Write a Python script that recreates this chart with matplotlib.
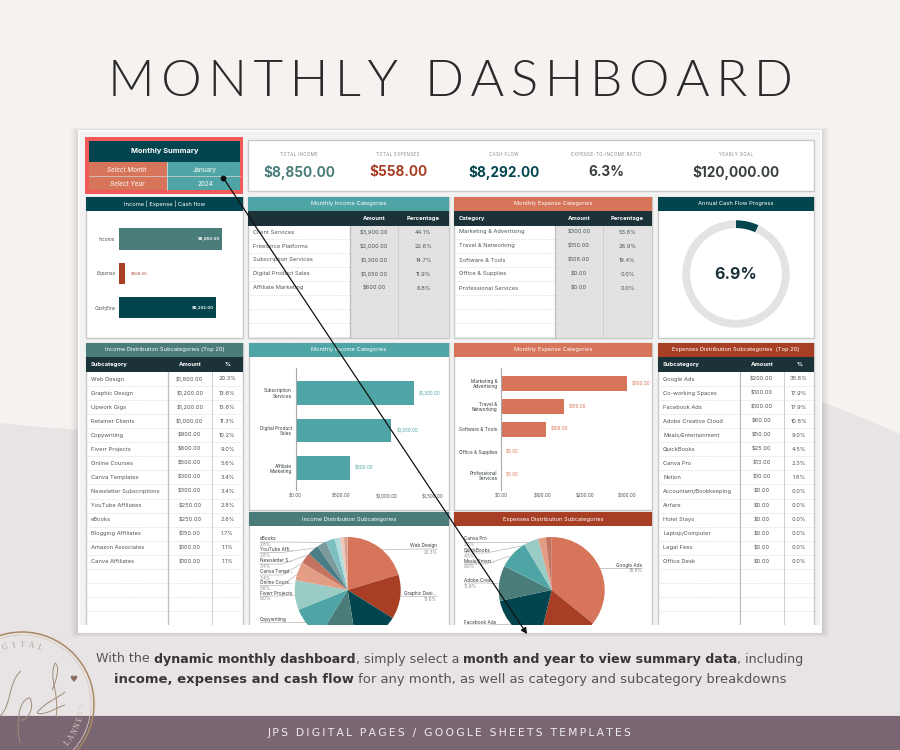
import numpy as np
import matplotlib
matplotlib.use("Agg")
import matplotlib.pyplot as plt
from matplotlib.patches import Rectangle, PathPatch, Polygon, Circle
from matplotlib.path import Path

plt.rcParams['font.family'] = ['Inter', 'DejaVu Sans']

W, H = 900, 750

# colours
DARK = '#03454f'
INK = '#1b3238'
TEAL = '#4fa5a5'
SAGE = '#4a7d79'
CORAL = '#d6755a'
RUST = '#a83f25'
GREY = '#e2e2e2'
LINE = '#c9c9c9'
TXT = '#4a5458'

# data
kpi_labels = ['TOTAL INCOME', 'TOTAL EXPENSES', 'CASH FLOW', 'EXPENSE-TO-INCOME RATIO', 'YEARLY GOAL']
kpi_values = ['$8,850.00', '$558.00', '$8,292.00', '6.3%', '$120,000.00']

flow_names = ['Income', 'Expense', 'Cashflow']
flow_values = [8850, 558, 8292]
flow_labels = ['$8,850.00', '$558.00', '$8,292.00']

income_cats = ['Client Services', 'Freelance Platforms', 'Subscription Services', 'Digital Product Sales', 'Affiliate Marketing']
income_cat_amt = ['$3,900.00', '$2,000.00', '$1,300.00', '$1,050.00', '$600.00']
income_cat_pct = ['44.1%', '22.6%', '14.7%', '11.9%', '6.8%']

expense_cats = ['Marketing & Advertising', 'Travel & Networking', 'Software & Tools', 'Office & Supplies', 'Professional Services']
expense_cat_amt = ['$300.00', '$150.00', '$108.00', '$0.00', '$0.00']
expense_cat_pct = ['53.8%', '26.9%', '19.4%', '0.0%', '0.0%']

income_sub = ['Web Design', 'Graphic Design', 'Upwork Gigs', 'Retainer Clients', 'Copywriting', 'Fiverr Projects',
              'Online Courses', 'Canva Templates', 'Newsletter Subscriptions', 'YouTube Affiliates', 'eBooks',
              'Blogging Affiliates', 'Amazon Associates', 'Canva Affiliates']
income_sub_val = [1800, 1200, 1200, 1000, 900, 800, 500, 300, 300, 250, 250, 150, 100, 100]
income_sub_amt = ['$1,800.00', '$1,200.00', '$1,200.00', '$1,000.00', '$900.00', '$800.00', '$500.00', '$300.00',
                  '$300.00', '$250.00', '$250.00', '$150.00', '$100.00', '$100.00']
income_sub_pct = ['20.3%', '13.6%', '13.6%', '11.3%', '10.2%', '9.0%', '5.6%', '3.4%', '3.4%', '2.8%', '2.8%',
                  '1.7%', '1.1%', '1.1%']

expense_sub = ['Google Ads', 'Co-working Spaces', 'Facebook Ads', 'Adobe Creative Cloud', 'Meals/Entertainment',
               'QuickBooks', 'Canva Pro', 'Notion', 'Accountant/Bookkeeping', 'Airfare', 'Hotel Stays',
               'Laptop/Computer', 'Legal Fees', 'Office Desk']
expense_sub_val = [200, 100, 100, 60, 50, 25, 13, 10, 0, 0, 0, 0, 0, 0]
expense_sub_amt = ['$200.00', '$100.00', '$100.00', '$60.00', '$50.00', '$25.00', '$13.00', '$10.00', '$0.00',
                   '$0.00', '$0.00', '$0.00', '$0.00', '$0.00']
expense_sub_pct = ['35.8%', '17.9%', '17.9%', '10.8%', '9.0%', '4.5%', '2.3%', '1.8%', '0.0%', '0.0%', '0.0%',
                   '0.0%', '0.0%', '0.0%']

inc_bar_names = ['Subscription\nServices', 'Digital Product\nSales', 'Affiliate\nMarketing']
inc_bar_vals = [1300, 1050, 600]
inc_bar_labels = ['$1,300.00', '$1,050.00', '$600.00']
inc_bar_ticks = [0, 500, 1000, 1500]
inc_bar_ticklabels = ['$0.00', '$500.00', '$1,000.00', '$1,500.00']

exp_bar_names = ['Marketing &\nAdvertising', 'Travel &\nNetworking', 'Software & Tools', 'Office & Supplies', 'Professional\nServices']
exp_bar_vals = [300, 150, 108, 0, 0]
exp_bar_labels = ['$300.00', '$150.00', '$108.00', '$0.00', '$0.00']
exp_bar_ticks = [0, 100, 200, 300]
exp_bar_ticklabels = ['$0.00', '$100.00', '$200.00', '$300.00']

progress = 6.9

pie_colors = ['#d6755a', '#a83f25', '#03454f', '#4a7d79', '#4fa5a5', '#98ccc5', '#e39d85', '#c4735f',
              '#4a7d85', '#7a9a9c', '#7dbfc0', '#b5dcdc', '#eec5b8', '#d9a090']


fig = plt.figure(figsize=(9, 7.5), dpi=100)


def px_axes(x0, y0, x1, y1, z=1):
    # axes placed by pixel box, y measured from the top of the image
    a = fig.add_axes([x0 / W, 1 - y1 / H, (x1 - x0) / W, (y1 - y0) / H], zorder=z)
    a.patch.set_alpha(0)
    return a


ax = px_axes(0, 0, W, H, 0)
ax.set_xlim(0, W)
ax.set_ylim(H, 0)
ax.axis('off')


def rect(x0, y0, x1, y1, fc, ec='none', lw=0, z=2, alpha=None):
    ax.add_patch(Rectangle((x0, y0), x1 - x0, y1 - y0, fc=fc, ec=ec, lw=lw, zorder=z, alpha=alpha))


def txt(x, y, s, size=4.1, color=TXT, ha='left', weight='normal', style='normal', z=5, **kw):
    return ax.text(x, y, s, fontsize=size, color=color, ha=ha, va='center', fontweight=weight,
                   fontstyle=style, zorder=z, **kw)


def spaced(s, n=1):
    return ('\u200a' * n).join(s)


# background
ax.add_patch(Rectangle((0, 0), W, H, fc='#e8e3e4', zorder=0))
ax.add_patch(Polygon([(0, 0), (W, 0), (W, 434), (860, 417), (822, 402), (600, 380), (300, 395), (79, 430), (30, 426), (0, 423)],
                     fc='#f6f2ef', ec='none', zorder=0.5))

# title
ax.text(450, 82, spaced('MONTHLY DASHBOARD', 2), fontsize=37, color='#2a2a2c', ha='center', va='center',
        family=['Lato', 'DejaVu Sans'], fontweight=300, zorder=2)

# card with soft shadow
for i in range(8, 0, -1):
    rect(79 - i, 131 - i * .4, 821 + i, 632 + i * .6, '#000000', z=1, alpha=.014)
rect(79, 131, 821, 632, '#f2f2f2', '#fbfbfb', 1.5, z=1.5)
rect(79, 625, 821, 632, '#ffffff', z=4.6)

# monthly summary block
rect(85, 137, 243, 194, '#f25a5a', z=2)
rect(89, 141, 240, 162, DARK, z=3)
rect(89, 162, 167, 190, CORAL, z=3)
rect(167, 162, 240, 190, TEAL, z=3)
ax.plot([89, 240], [176, 176], color='#d8d8d8', lw=.5, zorder=4)
ax.plot([167, 167], [162, 190], color='#e8e8e8', lw=.5, zorder=4)
txt(164.5, 151.5, 'Monthly Summary', 5.4, 'white', 'center', 'bold')
txt(127, 170, 'Select Month', 4.6, 'white', 'center', style='italic')
txt(127, 184, 'Select Year', 4.6, 'white', 'center', style='italic')
txt(205, 170, 'January', 4.6, 'white', 'center')
txt(205, 184, '2024', 4.6, 'white', 'center')

# KPI strip
rect(248, 140, 814, 191, 'white', LINE, 1, z=2)
kpi_x = [299, 398, 504, 606, 736]
kpi_col = [SAGE, RUST, DARK, '#3a3f42', '#3a3f42']
for x, lab, val, c in zip(kpi_x, kpi_labels, kpi_values, kpi_col):
    txt(x, 155, spaced(lab), 3.2, '#8a8a8a', 'center')
    txt(x, 172, val, 9.8, c, 'center', 'bold')


def panel(x0, y0, x1, y1, title, color, title_h=14):
    rect(x0, y0, x1, y1, 'white', LINE, 1, z=2)
    rect(x0, y0, x1, y0 + title_h, color, z=3)
    txt((x0 + x1) / 2, y0 + title_h / 2, title, 4.15, 'white', 'center')


def table(x0, y0, y1, cols, title, color, heads, names, amts, pcts, first_y, step, shade, n_rows):
    # cols = right edges of the name and amount columns, x1 is the right border
    x_a, x_p, x1 = cols
    panel(x0, y0, x1, y1, title, color)
    rect(x0, y0 + 14, x1, y0 + 28.5, INK, z=3)
    head_y = y0 + 21.5
    if heads[0]:
        txt(x0 + 5, head_y, heads[0], 4.2, 'white', weight='bold')
    txt((x_a + x_p) / 2, head_y, heads[1], 4.2, 'white', 'center', 'bold')
    txt((x_p + x1) / 2, head_y, heads[2], 4.2, 'white', 'center', 'bold')
    if shade:
        rect(x_a, y0 + 28.5, x1, y1, GREY, z=2.5)
    ax.plot([x_a, x_a], [y0 + 28.5, y1], color='#bdbdbd', lw=.9, zorder=4)
    ax.plot([x_p, x_p], [y0 + 28.5, y1], color='#cfcfcf', lw=.7, zorder=4)
    for i in range(n_rows):
        yl = first_y + (i + .5) * step
        if yl < y1:
            ax.plot([x0, x1], [yl, yl], color='#dedede', lw=.5, ls=(0, (2, 1)), zorder=3)
    for i, (n, a, p) in enumerate(zip(names, amts, pcts)):
        y = first_y + i * step
        txt(x0 + 5, y, n)
        txt((x_a + x_p) / 2, y, a, ha='center')
        txt((x_p + x1) / 2, y, p, ha='center')


table(248, 197, 338, (350, 398, 449), 'Monthly Income Categories', TEAL, ('', 'Amount', 'Percentage'),
      income_cats, income_cat_amt, income_cat_pct, 232, 14, True, 8)
table(454, 197, 338, (555, 603, 652), 'Monthly Expense Categories', CORAL, ('Category', 'Amount', 'Percentage'),
      expense_cats, expense_cat_amt, expense_cat_pct, 232, 14, True, 8)
table(86, 343, 630, (167.5, 212, 243), 'Income Distribution Subcategories (Top 20)', SAGE, ('Subcategory', 'Amount', '%'),
      income_sub, income_sub_amt, income_sub_pct, 379, 14.06, False, 18)
table(658, 343, 630, (739.5, 784, 814), 'Expenses Distribution Subcategories  (Top 20)', RUST, ('Subcategory', 'Amount', '%'),
      expense_sub, expense_sub_amt, expense_sub_pct, 379, 14.06, False, 18)

# income / expense / cash flow bars
panel(86, 197, 243, 338, 'Income | Expense | Cash flow', DARK)
flow_ax = px_axes(119, 218, 240, 328)
flow_ax.barh(flow_names, flow_values, height=.63, color=[SAGE, RUST, DARK])
flow_ax.set_xlim(0, 10397)
flow_ax.set_ylim(2.6, -.62)
flow_ax.set_xticks([])
flow_ax.tick_params(axis='y', length=0, pad=2.5, labelsize=3.4, labelcolor=TXT)
for lab in flow_ax.get_yticklabels():
    lab.set_fontstyle('italic')
for s in flow_ax.spines.values():
    s.set_visible(False)
for i, (v, l) in enumerate(zip(flow_values, flow_labels)):
    if v > 2000:
        flow_ax.text(v - 150, i, l, ha='right', va='center', fontsize=3.0, color='white', fontweight='bold')
    else:
        flow_ax.text(v + 450, i, l, ha='left', va='center', fontsize=3.0, color=RUST)

# progress donut
panel(658, 197, 814, 338, 'Annual Cash Flow Progress', DARK)
donut_ax = px_axes(676, 214, 796, 334)
donut_ax.pie([progress, 100 - progress], colors=[DARK, '#e3e3e3'], startangle=90, counterclock=False,
             radius=1, wedgeprops={'width': .145})
donut_ax.set_xlim(-60 / 53.7, 60 / 53.7)
donut_ax.set_ylim(-60 / 53.7, 60 / 53.7)
donut_ax.text(0, 0, '6.9%', ha='center', va='center', fontsize=11.5, fontweight='bold', color=INK)


def bar_panel(x0, x1, title, color, names, vals, labels, ticks, ticklabels, axis_x, ax_x1, xmax, ylim, height, label_gap):
    panel(x0, 343, x1, 510, title, color)
    b = px_axes(axis_x, 368, ax_x1, 490)
    pos = np.arange(len(vals))
    b.barh(pos, vals, height=height, color=color)
    b.set_xlim(0, xmax)
    b.set_ylim(*ylim)
    b.set_yticks(pos, names)
    b.set_xticks(ticks, ticklabels)
    b.tick_params(axis='y', length=0, pad=2.5, labelsize=3.4, labelcolor='#333b3e')
    b.tick_params(axis='x', length=0, pad=2.5, labelsize=3.3, labelcolor=TXT)
    for lab in b.get_yticklabels():
        lab.set_linespacing(1.05)
    for k, s in b.spines.items():
        s.set_visible(k == 'left')
    b.spines['left'].set_color('#a9a9a9')
    b.spines['left'].set_linewidth(.8)
    for i, (v, l) in enumerate(zip(vals, labels)):
        b.text(v + label_gap, i, l, va='center', fontsize=3.3, color=color, clip_on=False)


bar_panel(249, 449, 'Monthly Income Categories', TEAL, inc_bar_names, inc_bar_vals, inc_bar_labels,
          inc_bar_ticks, inc_bar_ticklabels, 295.5, 445, 1640, (2.58, -.66), .63, 55)
bar_panel(454, 652, 'Monthly Expense Categories', CORAL, exp_bar_names, exp_bar_vals, exp_bar_labels,
          exp_bar_ticks, exp_bar_ticklabels, 501, 648, 351, (4.64, -.68), .66, 11)


def pie_panel(x0, x1, title, color, vals, cx):
    # clipped at the card edge, same as the screenshot
    panel(x0, 512, x1, 630, title, color)
    r = 53.0
    top, bot = 528, 625
    cy = 590
    a = px_axes(cx - 70, top, cx + 70, bot, 4)
    wedges, _ = a.pie(vals, colors=pie_colors[:len(vals)], startangle=90, counterclock=False, radius=1)
    for w in wedges:
        w.set_clip_on(True)
    a.set_xlim(-70 / r, 70 / r)
    a.set_ylim(-(bot - cy) / r, (cy - top) / r)


pie_panel(249, 449, 'Income Distribution Subcategories', SAGE, income_sub_val, 347.7)
pie_panel(454, 652, 'Expenses Distribution Subcategories', RUST, expense_sub_val, 551.7)

# pie callouts: (label, pct, text x, text y, anchor, line end x, line end y)
inc_callouts = [('eBooks', '2.8%', 260, 539, 'left', 330, 542.5), ('YouTube Affi...', '2.8%', 260, 549.5, 'left', 322, 547),
                ('Newsletter S...', '3.4%', 260, 561, 'left', 314, 553), ('Canva Templ...', '3.4%', 260, 572, 'left', 306, 561),
                ('Online Cours...', '5.6%', 260, 582.5, 'left', 300, 572), ('Fiverr Projects', '9.0%', 260, 593, 'left', 297, 595),
                ('Copywriting', '', 260, 619, 'left', 306, 622), ('Web Design', '20.3%', 437, 546, 'right', 378, 550),
                ('Graphic Desi...', '13.6%', 437, 593.5, 'right', 397, 596)]
exp_callouts = [('Canva Pro', '2.3%', 464, 539, 'left', 535, 542), ('QuickBooks', '4.5%', 464, 550, 'left', 522, 546),
                ('Meals/Entert...', '9.0%', 464, 561, 'left', 510, 556), ('Adobe Crea...', '10.8%', 464, 580, 'left', 502, 584),
                ('Facebook Ads', '', 464, 622, 'left', 516, 624), ('Google Ads', '35.8%', 642, 565, 'right', 596, 568)]
for lab, pct, x, y, anchor, ex, ey in inc_callouts + exp_callouts:
    side = 1 if anchor == 'left' else -1
    edge = x + side * 22
    ax.plot([x, edge, ex], [y + 3, y + 3, ey], color='#b5b5b5', lw=.5, zorder=4.5)
    txt(x, y, lab, 3.4, '#333b3e', anchor, z=4.55)
    if pct:
        txt(x, y + 6, pct, 3.2, '#8a8a8a', anchor, z=4.55)


def mixed_line(y, parts, size):
    # regular and bold runs of one sentence, set side by side and centred
    r = fig.canvas.get_renderer()
    made = []
    total = 0
    for s, w in parts:
        t = ax.text(0, y, s, fontsize=size, color='#3a3638' if w == 'bold' else '#575254', va='center', ha='left',
                    family=['DejaVu Sans'], fontweight=w, zorder=5)
        wd = t.get_window_extent(r).width
        made.append((t, wd))
        total += wd
    x = 450 - total / 2
    for t, wd in made:
        t.set_x(x)
        x += wd


mixed_line(659, [('With the ', 'normal'), ('dynamic monthly dashboard', 'bold'), (', simply select a ', 'normal'),
                 ('month and year to view summary data', 'bold'), (', including', 'normal')], 9.08)
mixed_line(679, [('income, expenses and cash flow', 'bold'), (' for any month, as well as category and subcategory breakdowns', 'normal')], 9.43)

# footer band
rect(0, 715, W, 750, '#7a6672', z=3)
ax.plot([0, W], [715, 715], color='#f3eff0', lw=.6, zorder=3.1)
txt(450, 733, spaced('JPS DIGITAL PAGES / GOOGLE SHEETS TEMPLATES', 2), 7.75, '#f1ecee', 'center',
    family=['DejaVu Sans'])

# overlay: seal and arrow run over everything
top = px_axes(0, 0, W, H, 10)
top.set_xlim(0, W)
top.set_ylim(H, 0)
top.axis('off')

GOLD = '#a88a62'
SEAL_X, SEAL_Y = 22, 704
top.add_patch(Circle((SEAL_X, SEAL_Y), 72, fc='none', ec=GOLD, lw=1.1))
top.add_patch(Circle((SEAL_X, SEAL_Y), 69, fc='none', ec='#d8ccbc', lw=.6))


def arc_text(s, start, stop, radius, size, flip, color):
    for ch, a in zip(s, np.radians(np.linspace(start, stop, len(s)))):
        x = SEAL_X + radius * np.sin(a)
        y = SEAL_Y - radius * np.cos(a)
        rot = -np.degrees(a) + (180 if flip else 0)
        top.text(x, y, ch, fontsize=size, color=color, rotation=rot, ha='center', va='center',
                 family=['Liberation Serif'])


arc_text('GITAL', -17, 18, 59, 6, False, '#b3a898')
arc_text('LANNERS', 130, 92, 60, 5.6, True, '#d8cfc6')
top.text(73, 679, '\u2665', fontsize=6.5, color='#8a6a5a', ha='center', va='center', family=['DejaVu Sans'])

script_curves = [
    [(21, 671), (8, 682), (12, 705), (0, 716)],
    [(30, 698), (20, 698), (15, 720), (20, 743)],
    [(30, 698), (36, 712), (24, 722), (20, 720)],
    [(55, 663), (48, 680), (60, 692), (56, 717)],
    [(55, 663), (60, 666), (57, 680), (52, 690)],
    [(65, 692), (55, 700), (45, 702), (37, 713)],
    [(37, 713), (45, 716), (55, 708), (65, 705)],
]
for pts in script_curves:
    codes = [Path.MOVETO, Path.CURVE4, Path.CURVE4, Path.CURVE4]
    top.add_patch(PathPatch(Path(pts, codes), fc='none', ec='#a08d78', lw=.7))

top.plot([223], [177.5], 'o', ms=3.2, color='#111111')
top.annotate('', xy=(527, 634), xytext=(223, 177.5),
             arrowprops=dict(arrowstyle='-|>,head_width=.18,head_length=.35', color='#111111', lw=.9, shrinkA=0, shrinkB=0))

fig.savefig('out.png', dpi=100)
